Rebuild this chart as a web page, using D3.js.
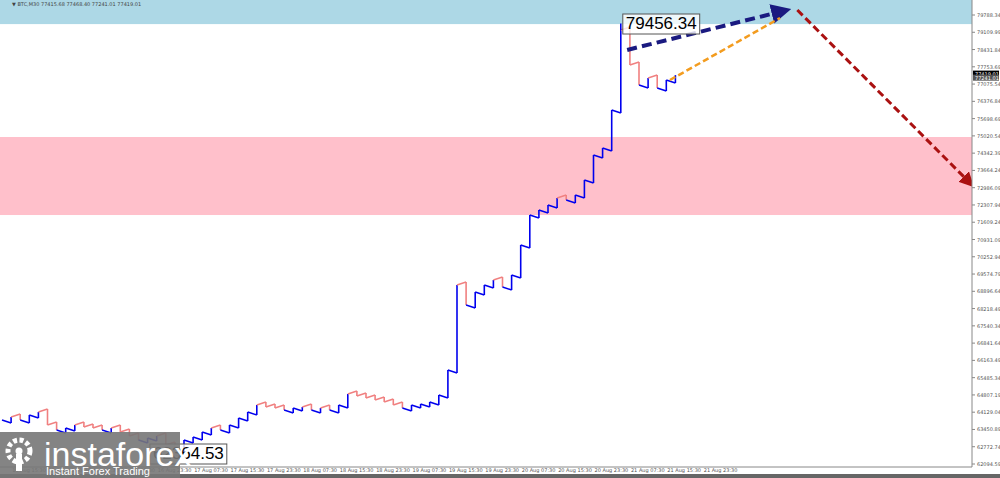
<!DOCTYPE html>
<html><head><meta charset="utf-8">
<script src="https://cdn.jsdelivr.net/npm/d3@7"></script>
<style>body{margin:0;background:#fff}svg{display:block;font-family:Tahoma,"DejaVu Sans",sans-serif}</style>
</head><body><div id="chart"></div>
<script>
// 2-hour closes, BTCUSD M30 chart
const closes = [63828,63946,63828,64025,64143,63631,63434,63513,63631,63552,63513,63434,63513,63355,63197,63040,63119,63197,62843,62449,63040,63158,63355,63513,63434,63631,63907,64143,64419,64340,64301,64222,64301,64340,64222,64301,64222,64419,64852,64773,64694,64616,64537,64419,64301,64419,64458,64537,64813,65798,69148,68360,68872,69148,69345,69069,69542,70724,71906,72103,72300,72576,72497,72694,73285,74270,74546,76044,79196,77817,77029,77305,76911,77226,77419];
const priceTicks = ["62094.59","62772.74","63450.89","64129.04","64807.19","65485.34","66163.49","66841.64","67540.34","68218.49","68896.64","69574.79","70252.94","70931.09","71609.24","72307.94","72986.09","73664.24","74342.39","75020.54","75698.69","76376.84","77075.54","77753.69","78431.84","79109.99","79788.34"];
const timeLabels = ["15 Aug 15:30","15 Aug 23:30","16 Aug 07:30","16 Aug 15:30","16 Aug 23:30","17 Aug 07:30","17 Aug 15:30","17 Aug 23:30","18 Aug 07:30","18 Aug 15:30","18 Aug 23:30","19 Aug 07:30","19 Aug 15:30","19 Aug 23:30","20 Aug 07:30","20 Aug 15:30","20 Aug 23:30","21 Aug 07:30","21 Aug 15:30","21 Aug 23:30"];
const blueZone = [79430, 80500];
const pinkZone = [71906, 74980];
const peak = {i: 68, price: 79456.34};
const low = {i: 19, price: 62364.53};
const arrows = [
  {from: [68.7, 78410], to: [86.3, 79985], color: "#1a1a80", w: 4},
  {from: [73.4, 77226], to: [85.5, 79670], color: "#f39c1f", w: 2.5},
  {from: [87.4, 79985], to: [106.6, 73088], color: "#aa1111", w: 3}
];

const W = 1000, H = 478, right = 972, bottom = 467;
const svg = d3.select("#chart").append("svg").attr("width", W).attr("height", H);
const x = d3.scaleLinear().domain([0, 1]).range([2, 11.1]);
const y = d3.scaleLinear().domain([62094.59, 79788.34]).range([464, 15]);
const yTick = d3.scaleLinear().domain([0, priceTicks.length - 1]).range([464, 15]);

svg.append("clipPath").attr("id", "c").append("rect").attr("width", right).attr("height", bottom);
const g = svg.append("g").attr("clip-path", "url(#c)");

g.append("rect").attr("x", 0).attr("width", right).attr("y", y(blueZone[1])).attr("height", y(blueZone[0]) - y(blueZone[1])).attr("fill", "#add8e6");
g.append("rect").attr("x", 0).attr("width", right).attr("y", y(pinkZone[1])).attr("height", y(pinkZone[0]) - y(pinkZone[1])).attr("fill", "#ffc0cb");

g.append("text").attr("x", 12).attr("y", 6).attr("font-size", 5).attr("fill", "#444").text("▼ BTC,M30  77415.68 77468.40 77241.01 77419.01");

const up = (d, i) => d >= closes[i] ? "#0000ee" : "#f08080";
const bars = closes.slice(1);
g.selectAll(".bar").data(bars).enter().append("line")
  .attr("x1", (d, i) => x(i + 1)).attr("x2", (d, i) => x(i + 1))
  .attr("y1", (d, i) => y(closes[i]) + (d >= closes[i] ? 3 : -3)).attr("y2", d => y(d) + 0)
  .attr("stroke", up).attr("stroke-width", 1.6);
// connectors between bars (intra-bar drift)
g.selectAll(".con").data(bars).enter().append("line")
  .attr("x1", (d, i) => x(i)).attr("x2", (d, i) => x(i + 1))
  .attr("y1", (d, i) => y(closes[i])).attr("y2", (d, i) => y(closes[i]) + (d >= closes[i] ? 3 : -3))
  .attr("stroke", up).attr("stroke-width", 1.4);
g.append("line").attr("x1", x(peak.i)).attr("x2", x(peak.i)).attr("y1", y(peak.price)).attr("y2", y(closes[peak.i])).attr("stroke", "#0000ee").attr("stroke-width", 1.6);
g.append("line").attr("x1", x(low.i)).attr("x2", x(low.i)).attr("y1", y(low.price)).attr("y2", y(closes[low.i])).attr("stroke", "#f08080").attr("stroke-width", 1.6);

const defs = svg.append("defs");
arrows.forEach((a, k) => {
  defs.append("marker").attr("id", "m" + k).attr("viewBox", "0 0 10 10").attr("refX", 8).attr("refY", 5)
    .attr("markerWidth", 5).attr("markerHeight", 5).attr("orient", "auto").attr("markerUnits", "strokeWidth")
    .append("path").attr("d", "M0,0L10,5L0,10Z").attr("fill", a.color);
  g.append("line").attr("x1", x(a.from[0])).attr("y1", y(a.from[1])).attr("x2", x(a.to[0])).attr("y2", y(a.to[1]))
    .attr("stroke", a.color).attr("stroke-width", a.w).attr("stroke-dasharray", a.w * 2.5 + "," + a.w * 1.3)
    .attr("marker-end", k === 1 ? null : "url(#m" + k + ")");
});

function label(px, py, t) {
  const gl = g.append("g");
  const tx = gl.append("text").attr("x", px + 3).attr("y", py + 15).attr("font-size", 17).attr("font-family", "Arial, Liberation Sans").attr("fill", "#000").text(t);
  const bb = tx.node().getBBox();
  gl.insert("rect", "text").attr("x", px).attr("y", py).attr("width", bb.width + 6).attr("height", 20).attr("fill", "#fff").attr("fill-opacity", 0.8).attr("stroke", "#555");
}
label(x(peak.i) + 2, 14, peak.price.toFixed(2));
label(x(low.i) - 25, 444, low.price.toFixed(2));

// axes
svg.append("line").attr("x1", right).attr("x2", right).attr("y1", 0).attr("y2", bottom).attr("stroke", "#888");
svg.append("line").attr("x1", 0).attr("x2", right).attr("y1", bottom).attr("y2", bottom).attr("stroke", "#888");
svg.append("rect").attr("x", 0).attr("y", 474).attr("width", W).attr("height", 4).attr("fill", "#666");
svg.selectAll(".pt").data(priceTicks).enter().append("text").attr("x", 977).attr("y", (d, i) => yTick(i) + 2)
  .attr("font-size", 5).attr("fill", "#555").text(d => d);
svg.selectAll(".ptk").data(priceTicks).enter().append("line").attr("x1", right).attr("x2", right + 3)
  .attr("y1", (d, i) => yTick(i)).attr("y2", (d, i) => yTick(i)).attr("stroke", "#888");
const cp = closes[closes.length - 1];
[[cp + 60, "#000", "77419.01"], [cp - 100, "#555", "77241.01"]].forEach(([p, c, t]) => {
  svg.append("rect").attr("x", right + 1).attr("y", y(p) - 3).attr("width", 26).attr("height", 6).attr("fill", c);
  svg.append("text").attr("x", right + 3).attr("y", y(p) + 2).attr("font-size", 5).attr("fill", "#fff").text(t);
});
svg.selectAll(".tl").data(timeLabels).enter().append("text").attr("x", (d, i) => 29 + i * 36.4).attr("y", 472)
  .attr("font-size", 5).attr("fill", "#555").attr("text-anchor", "middle").text(d => d);

// logo
const lg = svg.append("g");
lg.append("rect").attr("x", 0).attr("y", 432).attr("width", 180).attr("height", 46).attr("fill", "#777").attr("fill-opacity", 0.9);
lg.append("circle").attr("cx", 19).attr("cy", 451).attr("r", 11).attr("fill", "none").attr("stroke", "#fff").attr("stroke-width", 5).attr("stroke-dasharray", "4,2.5");
lg.append("circle").attr("cx", 19).attr("cy", 451).attr("r", 3.5).attr("fill", "#fff");
lg.append("rect").attr("x", 16).attr("y", 454).attr("width", 6).attr("height", 17).attr("fill", "#fff");
lg.append("text").attr("x", 44).attr("y", 466).attr("font-size", 34).attr("font-family", "Liberation Sans, Arial").attr("fill", "#fff").text("instaforex");
lg.append("text").attr("x", 46).attr("y", 475).attr("font-size", 11).attr("font-family", "Liberation Sans, Arial").attr("fill", "#fff").text("Instant Forex Trading");
</script></body></html>
